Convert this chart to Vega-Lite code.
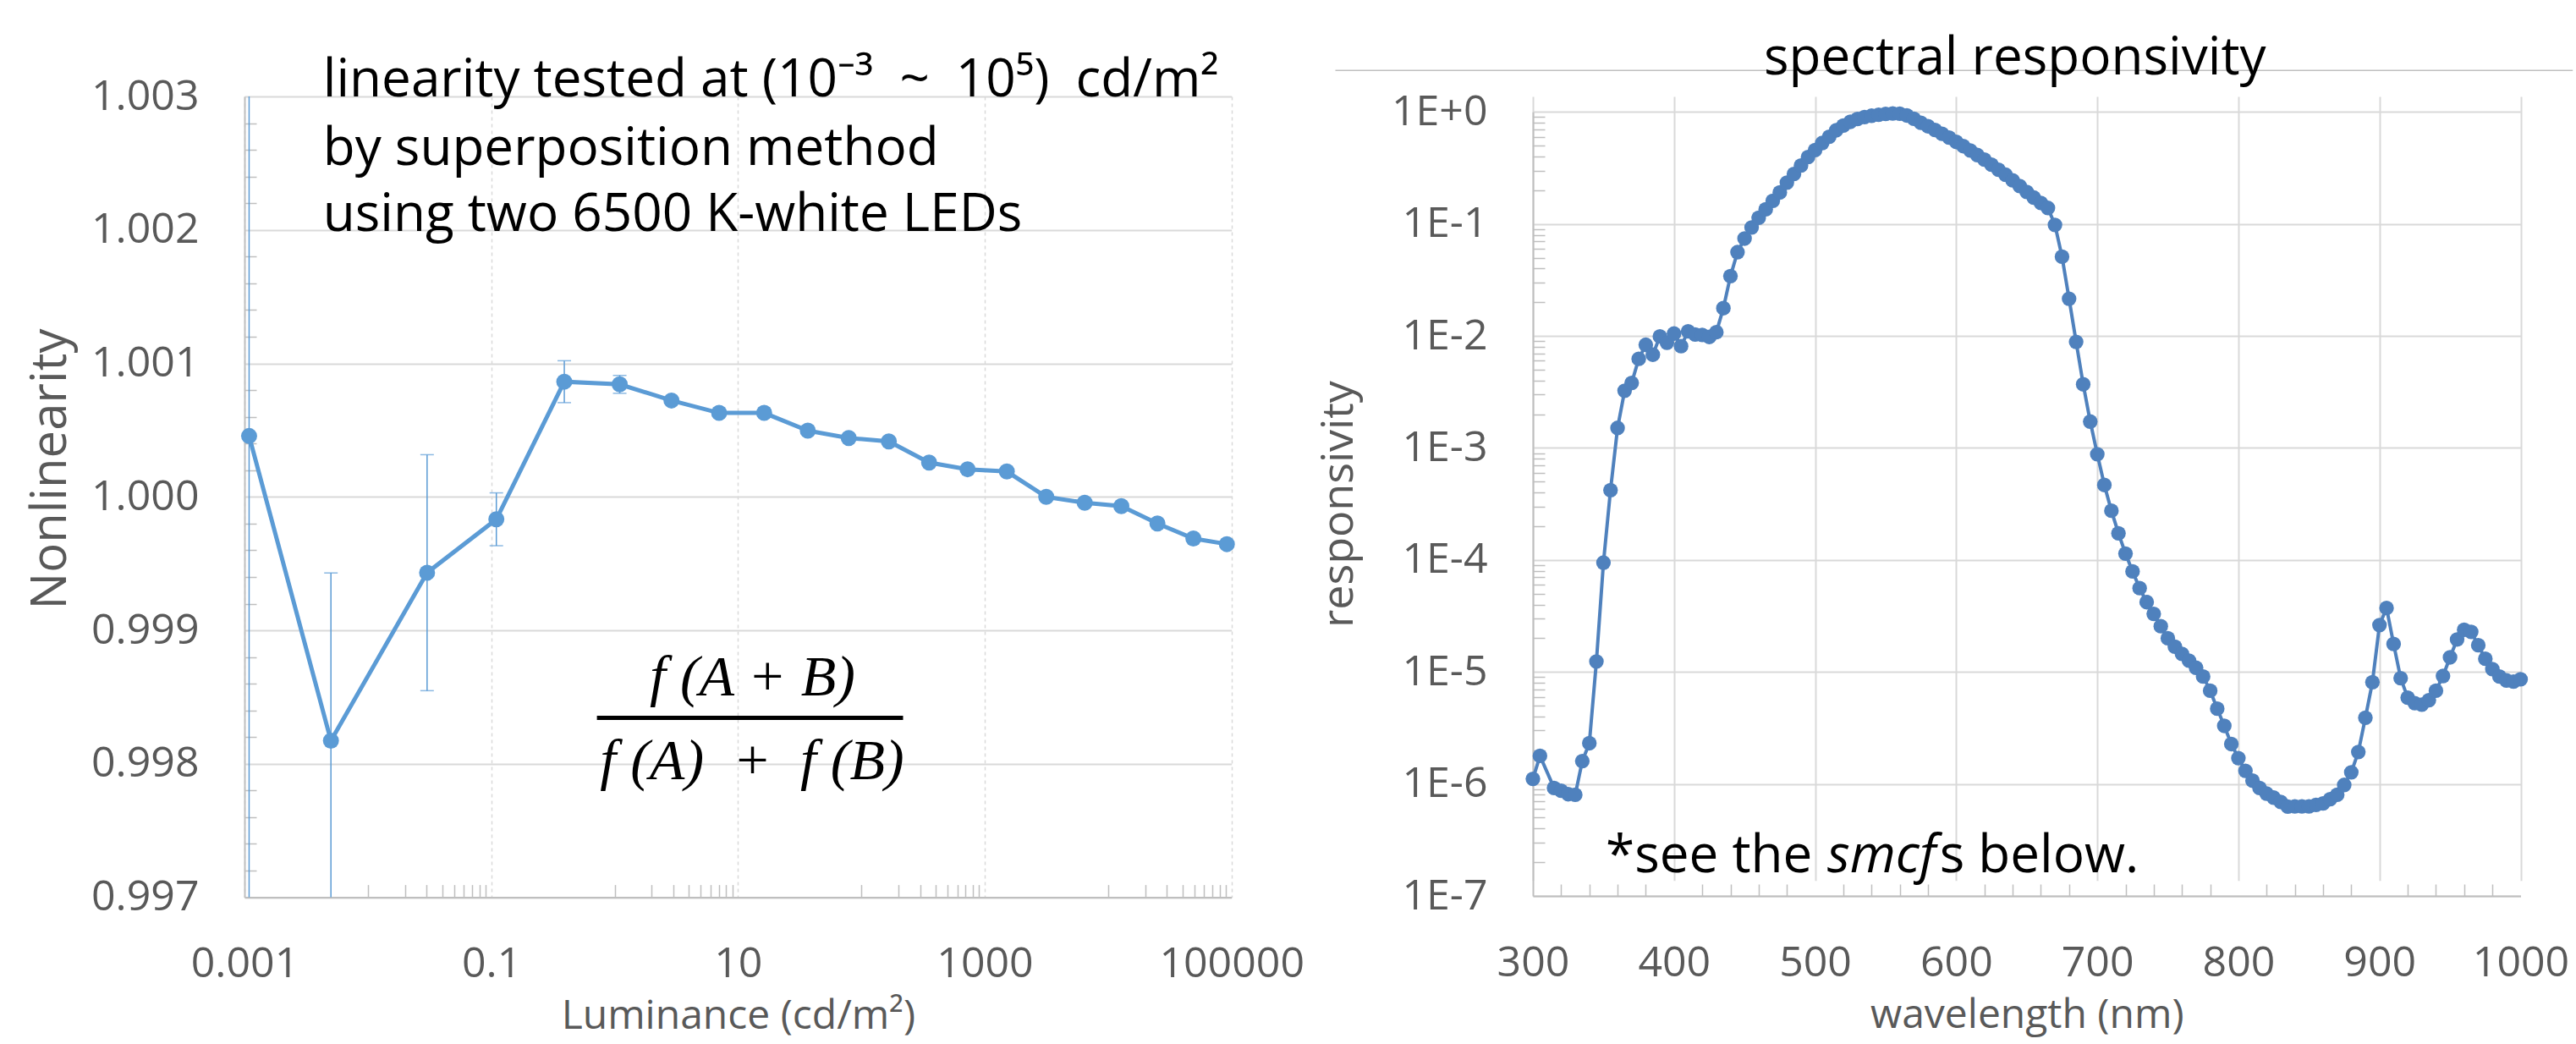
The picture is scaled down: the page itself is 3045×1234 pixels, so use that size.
{
  "$schema": "https://vega.github.io/schema/vega-lite/v6.json",
  "background": "white",
  "padding": {"left": 31, "top": 37, "right": 0, "bottom": 0},
  "bounds": "flush",
  "spacing": 356,
  "config": {
    "view": {"stroke": null},
    "font": "Open Sans",
    "axis": {
      "labelFont": "Open Sans", "titleFont": "Open Sans",
      "labelColor": "#595959", "titleColor": "#595959",
      "labelFontSize": 50, "titleFontSize": 48, "titleFontWeight": "normal",
      "gridColor": "#D9D9D9", "gridWidth": 2,
      "domainColor": "#BFBFBF", "domainWidth": 2,
      "tickColor": "#BFBFBF"
    }
  },
  "datasets": {
    "lin": [
      {"lum": 0.00109, "nl": 1.000456, "lo": 0.996856, "hi": 1.004056},
      {"lum": 0.00502, "nl": 0.998173, "lo": 0.996916, "hi": 0.99943},
      {"lum": 0.0302, "nl": 0.999432, "lo": 0.998548, "hi": 1.000316},
      {"lum": 0.110, "nl": 0.999832, "lo": 0.999634, "hi": 1.00003},
      {"lum": 0.391, "nl": 1.000863, "lo": 1.000706, "hi": 1.00102},
      {"lum": 1.10, "nl": 1.000843, "lo": 1.000776, "hi": 1.00091},
      {"lum": 2.89, "nl": 1.000722, "lo": 1.000702, "hi": 1.000742},
      {"lum": 7.03, "nl": 1.000629, "lo": 1.000609, "hi": 1.000649},
      {"lum": 16.3, "nl": 1.000629, "lo": 1.000609, "hi": 1.000649},
      {"lum": 36.8, "nl": 1.000496, "lo": 1.000476, "hi": 1.000516},
      {"lum": 79, "nl": 1.000441, "lo": 1.000421, "hi": 1.000461},
      {"lum": 167, "nl": 1.000416, "lo": 1.000396, "hi": 1.000436},
      {"lum": 354, "nl": 1.000257, "lo": 1.000237, "hi": 1.000277},
      {"lum": 726, "nl": 1.000207, "lo": 1.000187, "hi": 1.000227},
      {"lum": 1510, "nl": 1.00019, "lo": 1.00017, "hi": 1.00021},
      {"lum": 3150, "nl": 1.0, "lo": 0.99998, "hi": 1.00002},
      {"lum": 6460, "nl": 0.999956, "lo": 0.999936, "hi": 0.999976},
      {"lum": 12800, "nl": 0.999931, "lo": 0.999911, "hi": 0.999951},
      {"lum": 25100, "nl": 0.999801, "lo": 0.999781, "hi": 0.999821},
      {"lum": 49100, "nl": 0.999688, "lo": 0.999668, "hi": 0.999708},
      {"lum": 91700, "nl": 0.999646, "lo": 0.999626, "hi": 0.999666}
    ],
    "linNote": [
      {"lum": 0.004325, "nl": 1.003, "text": "linearity tested at (10⁻³\u2002~\u200210⁵)\u2002cd/m²"},
      {"lum": 0.004325, "nl": 1.002484, "text": "by superposition method"},
      {"lum": 0.004325, "nl": 1.001995, "text": "using two 6500 K-white LEDs"}
    ],
    "formula": [
      {"lum": 13.1, "nl": 0.998515, "text": "f (A + B)"},
      {"lum": 13.0, "nl": 0.997887, "text": "f (A)\u2002+\u2002f (B)"}
    ],
    "fracLine": [{"lum": 0.719, "lum2": 217.8, "nl": 0.998344}],
    "spec": [
      {"nm": 300, "r": 1.11e-6}, {"nm": 305, "r": 1.78e-6}, {"nm": 315, "r": 9.2e-7}, {"nm": 320, "r": 8.7e-7},
      {"nm": 325, "r": 8.1e-7}, {"nm": 330, "r": 8.0e-7}, {"nm": 335, "r": 1.6e-6}, {"nm": 340, "r": 2.31e-6},
      {"nm": 345, "r": 1.24e-5}, {"nm": 350, "r": 9.46e-5}, {"nm": 355, "r": 4.2e-4}, {"nm": 360, "r": 1.51e-3},
      {"nm": 365, "r": 3.24e-3}, {"nm": 370, "r": 3.81e-3}, {"nm": 375, "r": 6.24e-3}, {"nm": 380, "r": 8.34e-3},
      {"nm": 385, "r": 6.8e-3}, {"nm": 390, "r": 9.9e-3}, {"nm": 395, "r": 8.7e-3}, {"nm": 400, "r": 1.05e-2},
      {"nm": 405, "r": 8.1e-3}, {"nm": 410, "r": 1.10e-2}, {"nm": 415, "r": 1.03e-2}, {"nm": 420, "r": 1.02e-2},
      {"nm": 425, "r": 9.8e-3}, {"nm": 430, "r": 1.08e-2}, {"nm": 435, "r": 1.77e-2}, {"nm": 440, "r": 3.42e-2},
      {"nm": 445, "r": 5.6e-2}, {"nm": 450, "r": 7.4e-2}, {"nm": 455, "r": 9.3e-2}, {"nm": 460, "r": 0.1135},
      {"nm": 465, "r": 0.135}, {"nm": 470, "r": 0.161}, {"nm": 475, "r": 0.191}, {"nm": 480, "r": 0.234},
      {"nm": 485, "r": 0.279}, {"nm": 490, "r": 0.332}, {"nm": 495, "r": 0.395}, {"nm": 500, "r": 0.457},
      {"nm": 505, "r": 0.528}, {"nm": 510, "r": 0.60}, {"nm": 515, "r": 0.686}, {"nm": 520, "r": 0.757},
      {"nm": 525, "r": 0.816}, {"nm": 530, "r": 0.865}, {"nm": 535, "r": 0.90}, {"nm": 540, "r": 0.925},
      {"nm": 545, "r": 0.945}, {"nm": 550, "r": 0.96}, {"nm": 555, "r": 0.968}, {"nm": 560, "r": 0.965},
      {"nm": 565, "r": 0.93}, {"nm": 570, "r": 0.87}, {"nm": 575, "r": 0.80}, {"nm": 580, "r": 0.745},
      {"nm": 585, "r": 0.69}, {"nm": 590, "r": 0.638}, {"nm": 595, "r": 0.59}, {"nm": 600, "r": 0.54},
      {"nm": 605, "r": 0.495}, {"nm": 610, "r": 0.452}, {"nm": 615, "r": 0.412}, {"nm": 620, "r": 0.375},
      {"nm": 625, "r": 0.338}, {"nm": 630, "r": 0.305}, {"nm": 635, "r": 0.275}, {"nm": 640, "r": 0.245},
      {"nm": 645, "r": 0.218}, {"nm": 650, "r": 0.193}, {"nm": 655, "r": 0.172}, {"nm": 660, "r": 0.154},
      {"nm": 665, "r": 0.139}, {"nm": 670, "r": 0.098}, {"nm": 675, "r": 0.051}, {"nm": 680, "r": 0.0215},
      {"nm": 685, "r": 8.85e-3}, {"nm": 690, "r": 3.7e-3}, {"nm": 695, "r": 1.72e-3}, {"nm": 700, "r": 8.8e-4},
      {"nm": 705, "r": 4.67e-4}, {"nm": 710, "r": 2.75e-4}, {"nm": 715, "r": 1.73e-4}, {"nm": 720, "r": 1.14e-4},
      {"nm": 725, "r": 7.9e-5}, {"nm": 730, "r": 5.6e-5}, {"nm": 735, "r": 4.2e-5}, {"nm": 740, "r": 3.3e-5},
      {"nm": 745, "r": 2.56e-5}, {"nm": 750, "r": 2.0e-5}, {"nm": 755, "r": 1.68e-5}, {"nm": 760, "r": 1.45e-5},
      {"nm": 765, "r": 1.26e-5}, {"nm": 770, "r": 1.09e-5}, {"nm": 775, "r": 9.1e-6}, {"nm": 780, "r": 6.8e-6},
      {"nm": 785, "r": 4.7e-6}, {"nm": 790, "r": 3.3e-6}, {"nm": 795, "r": 2.27e-6}, {"nm": 800, "r": 1.7e-6},
      {"nm": 805, "r": 1.31e-6}, {"nm": 810, "r": 1.07e-6}, {"nm": 815, "r": 9.2e-7}, {"nm": 820, "r": 8.2e-7},
      {"nm": 825, "r": 7.55e-7}, {"nm": 830, "r": 6.9e-7}, {"nm": 835, "r": 6.27e-7}, {"nm": 840, "r": 6.3e-7},
      {"nm": 845, "r": 6.3e-7}, {"nm": 850, "r": 6.3e-7}, {"nm": 855, "r": 6.5e-7}, {"nm": 860, "r": 6.7e-7},
      {"nm": 865, "r": 7.3e-7}, {"nm": 870, "r": 8.0e-7}, {"nm": 875, "r": 9.8e-7}, {"nm": 880, "r": 1.27e-6},
      {"nm": 885, "r": 1.93e-6}, {"nm": 890, "r": 3.9e-6}, {"nm": 895, "r": 8.1e-6}, {"nm": 900, "r": 2.62e-5},
      {"nm": 905, "r": 3.72e-5}, {"nm": 910, "r": 1.78e-5}, {"nm": 915, "r": 8.8e-6}, {"nm": 920, "r": 5.9e-6},
      {"nm": 925, "r": 5.27e-6}, {"nm": 930, "r": 5.1e-6}, {"nm": 935, "r": 5.6e-6}, {"nm": 940, "r": 6.8e-6},
      {"nm": 945, "r": 9.2e-6}, {"nm": 950, "r": 1.35e-5}, {"nm": 955, "r": 1.95e-5}, {"nm": 960, "r": 2.38e-5},
      {"nm": 965, "r": 2.28e-5}, {"nm": 970, "r": 1.73e-5}, {"nm": 975, "r": 1.31e-5}, {"nm": 980, "r": 1.06e-5},
      {"nm": 985, "r": 9.1e-6}, {"nm": 990, "r": 8.4e-6}, {"nm": 995, "r": 8.2e-6}, {"nm": 1000, "r": 8.6e-6}
    ],
    "specFrame": [{"nm": 160, "nm2": 1037, "r": 2.346}],
    "specNote": [
      {"nm": 351.6, "r": 1.614e-7, "text": "*see the"},
      {"nm": 588.2, "r": 1.614e-7, "text": "s below."}
    ],
    "specNoteIt": [{"nm": 508.7, "r": 1.614e-7, "text": "smcf"}]
  },
  "hconcat": [
    {
      "width": 1166.7,
      "height": 946.6,
      "resolve": {"axis": {"x": "independent", "y": "independent"}},
      "layer": [
        {
          "data": {"name": "lin"},
          "mark": {"type": "rule", "color": "#5B9BD5", "strokeWidth": 1.5, "clip": true},
          "encoding": {
            "x": {"field": "lum", "type": "quantitative",
              "scale": {"type": "log", "domain": [0.001, 100000], "nice": false},
              "axis": {"orient": "bottom", "values": [0.01,0.02,0.03,0.04,0.05,0.06,0.07,0.08,0.09,1,2,3,4,5,6,7,8,9,100,200,300,400,500,600,700,800,900,10000,20000,30000,40000,50000,60000,70000,80000,90000],
                "offset": -15, "tickSize": 15, "tickWidth": 1.5, "labels": false, "domain": false, "grid": false, "title": null}},
            "y": {"field": "lo", "type": "quantitative",
              "scale": {"domain": [0.997, 1.003], "nice": false, "zero": false},
              "axis": {"orient": "left", "values": [0.9972,0.9974,0.9976,0.9978,0.9982,0.9984,0.9986,0.9988,0.9992,0.9994,0.9996,0.9998,1.0002,1.0004,1.0006,1.0008,1.0012,1.0014,1.0016,1.0018,1.0022,1.0024,1.0026,1.0028],
                "offset": -14, "tickSize": 14, "tickWidth": 1.5, "labels": false, "domain": false, "grid": false, "title": null}},
            "y2": {"field": "hi"}
          }
        },
        {
          "data": {"name": "lin"},
          "mark": {"type": "tick", "orient": "horizontal", "color": "#5B9BD5", "size": 16, "thickness": 1.5, "clip": true},
          "encoding": {
            "x": {"field": "lum", "type": "quantitative", "scale": {"type": "log", "domain": [0.001, 100000], "nice": false}, "axis": null},
            "y": {"field": "lo", "type": "quantitative", "scale": {"domain": [0.997, 1.003], "nice": false, "zero": false}, "axis": null}
          }
        },
        {
          "data": {"name": "lin"},
          "mark": {"type": "tick", "orient": "horizontal", "color": "#5B9BD5", "size": 16, "thickness": 1.5, "clip": true},
          "encoding": {
            "x": {"field": "lum", "type": "quantitative", "scale": {"type": "log", "domain": [0.001, 100000], "nice": false}, "axis": null},
            "y": {"field": "hi", "type": "quantitative", "scale": {"domain": [0.997, 1.003], "nice": false, "zero": false}, "axis": null}
          }
        },
        {
          "data": {"name": "lin"},
          "mark": {"type": "line", "color": "#5B9BD5", "strokeWidth": 5},
          "encoding": {
            "x": {"field": "lum", "type": "quantitative",
              "scale": {"type": "log", "domain": [0.001, 100000], "nice": false},
              "axis": {"orient": "bottom", "values": [0.001, 0.1, 10, 1000, 100000], "labelExpr": "'' + datum.value",
                "ticks": false, "labelPadding": 54, "grid": true, "gridDash": [4, 4], "gridWidth": 1.5,
                "title": "Luminance (cd/m²)", "titlePadding": 13, "labelFlush": false, "labelOverlap": false}},
            "y": {"field": "nl", "type": "quantitative",
              "scale": {"domain": [0.997, 1.003], "nice": false, "zero": false},
              "axis": {"orient": "left", "values": [0.997, 0.998, 0.999, 1.0, 1.001, 1.002, 1.003], "format": ".3f",
                "ticks": false, "labelPadding": 54, "grid": true, "labelOverlap": false, "labelFlush": false,
                "title": "Nonlinearity", "titleFontSize": 58, "titlePadding": 18, "titleY": 440}}
          }
        },
        {
          "data": {"name": "lin"},
          "mark": {"type": "point", "filled": true, "opacity": 1, "color": "#5B9BD5", "size": 360},
          "encoding": {
            "x": {"field": "lum", "type": "quantitative", "scale": {"type": "log", "domain": [0.001, 100000], "nice": false}, "axis": null},
            "y": {"field": "nl", "type": "quantitative", "scale": {"domain": [0.997, 1.003], "nice": false, "zero": false}, "axis": null}
          }
        },
        {
          "data": {"name": "linNote"},
          "mark": {"type": "text", "align": "left", "baseline": "alphabetic", "font": "Open Sans", "fontSize": 62, "color": "#000000", "clip": false},
          "encoding": {
            "x": {"field": "lum", "type": "quantitative", "scale": {"type": "log", "domain": [0.001, 100000], "nice": false}, "axis": null},
            "y": {"field": "nl", "type": "quantitative", "scale": {"domain": [0.997, 1.003], "nice": false, "zero": false}, "axis": null},
            "text": {"field": "text"}
          }
        },
        {
          "data": {"name": "formula"},
          "mark": {"type": "text", "align": "center", "baseline": "alphabetic", "font": "Liberation Serif", "fontStyle": "italic", "fontSize": 68, "color": "#000000"},
          "encoding": {
            "x": {"field": "lum", "type": "quantitative", "scale": {"type": "log", "domain": [0.001, 100000], "nice": false}, "axis": null},
            "y": {"field": "nl", "type": "quantitative", "scale": {"domain": [0.997, 1.003], "nice": false, "zero": false}, "axis": null},
            "text": {"field": "text"}
          }
        },
        {
          "data": {"name": "fracLine"},
          "mark": {"type": "rule", "color": "#000000", "strokeWidth": 5},
          "encoding": {
            "x": {"field": "lum", "type": "quantitative", "scale": {"type": "log", "domain": [0.001, 100000], "nice": false}, "axis": null},
            "x2": {"field": "lum2"},
            "y": {"field": "nl", "type": "quantitative", "scale": {"domain": [0.997, 1.003], "nice": false, "zero": false}, "axis": null}
          }
        }
      ]
    },
    {
      "width": 1167.5,
      "height": 945,
      "title": {"text": "spectral responsivity", "font": "Open Sans", "fontSize": 62, "fontWeight": "normal", "color": "#000000",
        "frame": "group", "anchor": "middle", "baseline": "alphabetic", "offset": -67, "dx": -14},
      "resolve": {"axis": {"x": "independent", "y": "independent"}},
      "layer": [
        {
          "data": {"name": "specFrame"},
          "mark": {"type": "rule", "color": "#BFBFBF", "strokeWidth": 1.5, "clip": false},
          "encoding": {
            "x": {"field": "nm", "type": "quantitative", "scale": {"domain": [300, 1000], "nice": false, "zero": false}, "axis": null},
            "x2": {"field": "nm2"},
            "y": {"field": "r", "type": "quantitative", "scale": {"type": "log", "domain": [1e-7, 1], "range": [945, 18.3], "nice": false}, "axis": null}
          }
        },
        {
          "data": {"name": "spec"},
          "mark": {"type": "line", "color": "#4F81BD", "strokeWidth": 4},
          "encoding": {
            "x": {"field": "nm", "type": "quantitative",
              "scale": {"domain": [300, 1000], "nice": false, "zero": false},
              "axis": {"orient": "bottom", "values": [300, 400, 500, 600, 700, 800, 900, 1000], "format": "d",
                "ticks": false, "labelPadding": 54, "grid": true, "labelFlush": false, "labelOverlap": false,
                "title": "wavelength (nm)", "titlePadding": 13}},
            "y": {"field": "r", "type": "quantitative",
              "scale": {"type": "log", "domain": [1e-7, 1], "range": [945, 18.3], "nice": false},
              "axis": {"orient": "left", "values": [1e-7, 1e-6, 1e-5, 1e-4, 1e-3, 1e-2, 1e-1, 1],
                "labelExpr": "datum.value >= 1 ? '1E+0' : '1E' + round(log(datum.value) / LN10)",
                "ticks": false, "labelPadding": 54, "grid": true, "labelFlush": false, "labelOverlap": false,
                "title": "responsivity", "titleFontSize": 52, "titlePadding": 35}}
          }
        },
        {
          "data": {"name": "spec"},
          "mark": {"type": "point", "filled": true, "opacity": 1, "color": "#4F81BD", "size": 300},
          "encoding": {
            "x": {"field": "nm", "type": "quantitative", "scale": {"domain": [300, 1000], "nice": false, "zero": false}, "axis": null},
            "y": {"field": "r", "type": "quantitative", "scale": {"type": "log", "domain": [1e-7, 1], "range": [945, 18.3], "nice": false}, "axis": null}
          }
        },
        {
          "data": {"name": "specNote"},
          "mark": {"type": "text", "align": "left", "baseline": "alphabetic", "font": "Open Sans", "fontSize": 62, "color": "#000000", "clip": false},
          "encoding": {
            "x": {"field": "nm", "type": "quantitative",
              "scale": {"domain": [300, 1000], "nice": false, "zero": false},
              "axis": {"orient": "bottom", "values": [320,340,360,380,420,440,460,480,520,540,560,580,620,640,660,680,720,740,760,780,820,840,860,880,920,940,960,980],
                "offset": -14, "tickSize": 14, "tickWidth": 1.5, "labels": false, "domain": false, "grid": false, "title": null}},
            "y": {"field": "r", "type": "quantitative",
              "scale": {"type": "log", "domain": [1e-7, 1], "range": [945, 18.3], "nice": false},
              "axis": {"orient": "left", "values": [2e-7,3e-7,4e-7,5e-7,6e-7,7e-7,8e-7,9e-7,2e-6,3e-6,4e-6,5e-6,6e-6,7e-6,8e-6,9e-6,2e-5,3e-5,4e-5,5e-5,6e-5,7e-5,8e-5,9e-5,2e-4,3e-4,4e-4,5e-4,6e-4,7e-4,8e-4,9e-4,2e-3,3e-3,4e-3,5e-3,6e-3,7e-3,8e-3,9e-3,2e-2,3e-2,4e-2,5e-2,6e-2,7e-2,8e-2,9e-2,0.2,0.3,0.4,0.5,0.6,0.7,0.8,0.9],
                "offset": -14, "tickSize": 14, "tickWidth": 1.5, "labels": false, "domain": false, "grid": false, "title": null}},
            "text": {"field": "text"}
          }
        },
        {
          "data": {"name": "specNoteIt"},
          "mark": {"type": "text", "align": "left", "baseline": "alphabetic", "font": "Open Sans", "fontStyle": "italic", "fontSize": 62, "color": "#000000", "clip": false},
          "encoding": {
            "x": {"field": "nm", "type": "quantitative", "scale": {"domain": [300, 1000], "nice": false, "zero": false}, "axis": null},
            "y": {"field": "r", "type": "quantitative", "scale": {"type": "log", "domain": [1e-7, 1], "range": [945, 18.3], "nice": false}, "axis": null},
            "text": {"field": "text"}
          }
        }
      ]
    }
  ]
}
